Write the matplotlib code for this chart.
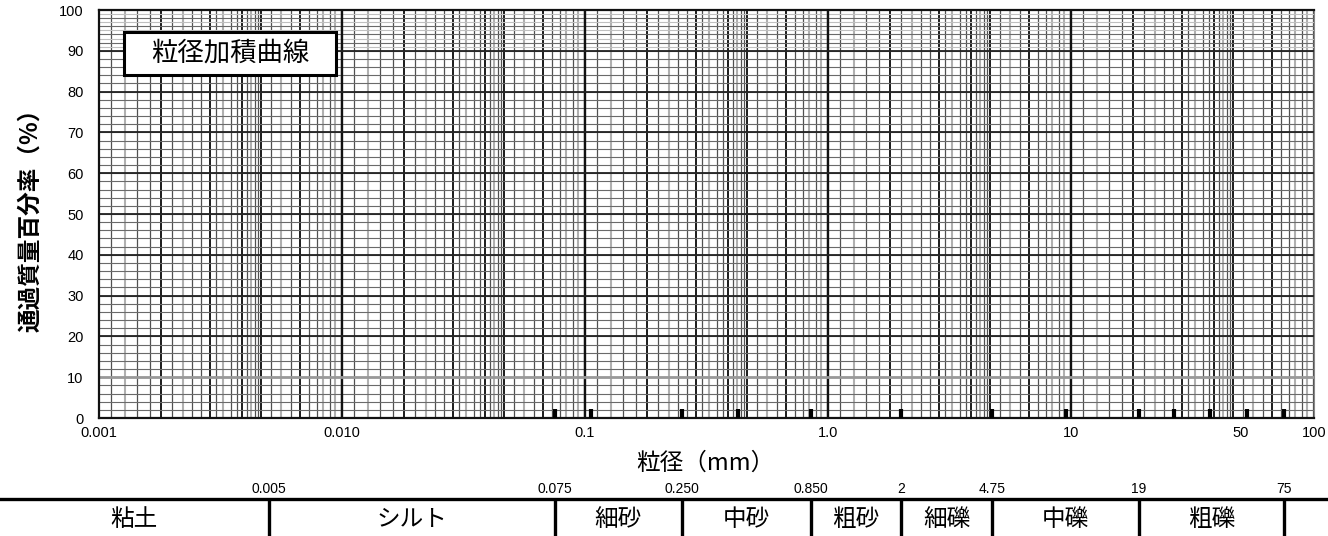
import matplotlib.pyplot as plt
from matplotlib.patches import Rectangle
from matplotlib.ticker import NullLocator
import numpy as np

plt.rcParams['font.family'] = ['Liberation Sans', 'Noto Sans CJK JP']
JP = ['Noto Sans CJK JP', 'DejaVu Sans']

# x ticks (mm)
x_ticks = [0.001, 0.01, 0.1, 1, 10, 50, 100]
x_tick_labels = ['0.001', '0.010', '0.1', '1.0', '10', '50', '100']
y_ticks = [0, 10, 20, 30, 40, 50, 60, 70, 80, 90, 100]

# vertical grid lines inside one decade (multipliers)
decades = [0.001, 0.01, 0.1, 1, 10]
grid_mult = [1.12, 1.28, 1.44, 1.62, 1.80, 1.99, 2.21, 2.41, 2.63, 2.85,
             3.03, 3.23, 3.50, 3.69, 3.89, 4.06, 4.24, 4.37, 4.51, 4.63,
             5.12, 5.63, 6.16, 6.70, 7.33, 7.86, 8.37, 8.92, 9.35, 9.88]
grid_kind = ['m', 'l', 'm', 'm', 'd', 'm', 'l', 'm', 'm', 'd',
             'm', 'l', 'm', 'm', 'd', 'm', 'l', 'm', 'm', 'd',
             'm', 'l', 'm', 'd', 'm', 'm', 'l', 'm', 'l', 'm']

# sieve sizes (short ticks at the bottom)
sieve_sizes = [0.075, 0.106, 0.25, 0.425, 0.85, 2, 4.75, 9.5, 19, 26.5, 37.5, 53, 75]

# soil classification band
band_edges = [0.005, 0.075, 0.25, 0.85, 2, 4.75, 19, 75]
band_edge_labels = ['0.005', '0.075', '0.250', '0.850', '2', '4.75', '19', '75']
band_names = ['粘土', 'シルト', '細砂', '中砂', '粗砂', '細礫', '中礫', '粗礫']

styles = {'m': ('#505050', 0.9), 'l': ('#b0b0b0', 1.5), 'd': ('#1a1a1a', 1.4)}

W, H = 1328, 536
fig = plt.figure(figsize=(W / 100, H / 100), dpi=100)
L, R, B, T = 99 / W, 1314 / W, (H - 418) / H, (H - 10) / H
ax = fig.add_axes([L, B, R - L, T - B])
ax.set_xscale('log')
ax.set_xlim(0.001, 100)
ax.set_ylim(0, 100)

# vertical grid
for d in decades:
    for m, k in zip(grid_mult, grid_kind):
        c, lw = styles[k]
        ax.axvline(d * m, color=c, lw=lw, zorder=1)
for d in decades[1:]:
    ax.axvline(d, color='#111111', lw=1.7, zorder=2)

# horizontal grid
for y in range(2, 100, 2):
    ax.axhline(y, color='#6a6a6a', lw=0.8, zorder=1)
for y in range(91, 100, 2):
    ax.axhline(y, color='#c0c0c0', lw=0.8, zorder=1)
for y in range(20, 100, 10):
    ax.axhline(y, color='#222222', lw=1.3, zorder=2)
ax.axhline(10, color='#999999', lw=2.0, zorder=2)

ax.vlines(sieve_sizes, 0, 2.2, colors='black', lw=3, zorder=3)

for s in ['left', 'bottom', 'top']:
    ax.spines[s].set_linewidth(1.6)
    ax.spines[s].set_color('#111111')
ax.spines['right'].set_color('#888888')

ax.xaxis.set_minor_locator(NullLocator())
ax.set_xticks(x_ticks)
ax.set_xticklabels(x_tick_labels, fontsize=10.5)
ax.set_yticks(y_ticks)
ax.set_yticklabels([str(v) for v in y_ticks], fontsize=10.5)
ax.tick_params(length=0, pad=6)
ax.tick_params(axis='y', pad=11)

# title box
ax.add_patch(Rectangle((0.0206, 0.8407), 0.1745, 0.1054, transform=ax.transAxes,
                       facecolor='white', edgecolor='black', lw=2.2, zorder=5))
ax.text(0.1078, 0.8934, '粒径加積曲線', transform=ax.transAxes, ha='center', va='center',
        fontsize=19, family=JP, zorder=6)

fig.text(705 / W, 1 - 463 / H, '粒径（mm）', ha='center', va='center', fontsize=17, family=JP)
fig.text(30 / W, 1 - 214 / H, '通過質量百分率（%）', ha='center', va='center', fontsize=17,
         rotation=90, fontweight='bold', family=JP)

# classification band, same log scale as the main axes
bh = 58 / H
bx = fig.add_axes([0, 0, 1, bh])
bx.set_xscale('log')
per = 5 / (R - L)
lo = -3 - L * per
hi = 2 + (1 - R) * per
bx.set_xlim(10 ** lo, 10 ** hi)
bx.set_ylim(0, 1)
bx.axis('off')
yline = (H - 499) / 58
bx.axhline(yline, color='black', lw=2.4)
bx.vlines(band_edges, 0, yline, colors='black', lw=2.4)
for e, lab in zip(band_edges, band_edge_labels):
    bx.text(e, 0.81, lab, ha='center', va='center', fontsize=10)
lefts = [10 ** lo] + band_edges[:-1]
for a, b, name in zip(lefts, band_edges, band_names):
    bx.text(np.sqrt(a * b), 0.28, name, ha='center', va='center', fontsize=17, family=JP)

fig.savefig('out.png', dpi=100)
